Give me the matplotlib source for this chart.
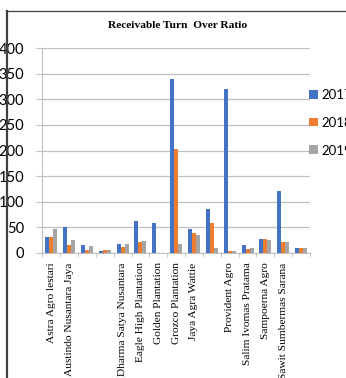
import numpy as np
import matplotlib
matplotlib.use("Agg")
import matplotlib.pyplot as plt
from matplotlib.lines import Line2D

# Data
companies = ["Astra Agro lestari", "Austindo Nusantara Jaya", "", "",
             "Dharma Satya Nusantara", "Eagle High Plantation", "Golden Plantation",
             "Grozco Plantation", "Jaya Agra Wattie", "", "Provident Agro",
             "Salim Ivomas Pratama", "Sampoerna Agro", "Sawit Sumbermas Sarana", ""]
years = ["2017", "2018", "2019"]
val_2017 = [31.5, 51, 15, 4, 16.5, 63, 58.5, 339, 46.5, 85.5, 321, 15, 26.5, 121, 8.5]
val_2018 = [31, 15, 5, 5, 11, 20, 0, 202, 38, 59, 4, 8, 26.5, 20, 8.5]
val_2019 = [47, 25, 12.5, 5, 16.5, 23, 0, 18, 35.5, 10, 4, 9.5, 25.5, 21.5, 10]
yticks = [0, 50, 100, 150, 200, 250, 300, 350, 400]

colors = ["#4472C4", "#ED7D31", "#A5A5A5"]
grid_c = "#C0C0C0"
sans = ["Lato", "DejaVu Sans"]
serif = ["Liberation Serif", "DejaVu Serif"]

W, H = 346, 378
fig = plt.figure(figsize=(W / 100, H / 100), dpi=100)
ax = fig.add_axes([42.3 / W, 1 - 252.7 / H, (310 - 42.3) / W, (252.7 - 48.3) / H])

x = np.arange(len(companies))
bw = 0.225
for k, (vals, lab) in enumerate(zip([val_2017, val_2018, val_2019], years)):
    ax.bar(x + (k - 1) * bw, vals, width=bw, color=colors[k], label=lab, zorder=3)

ax.set_xlim(-0.5, len(companies) - 0.5)
ax.set_ylim(0, 400)
ax.set_yticks(yticks)
ax.set_yticklabels([str(v) for v in yticks], fontsize=10.5, family=sans)
ax.yaxis.grid(True, color=grid_c, lw=0.9, zorder=0)
ax.tick_params(axis="y", length=4, color=grid_c, pad=9)

ax.set_xticks(x)
ax.set_xticklabels(companies, rotation=90, fontsize=8.2, family=serif)
ax.set_xticks(np.arange(-0.5, len(companies)), minor=True)
ax.tick_params(axis="x", which="major", length=0, pad=7)
ax.tick_params(axis="x", which="minor", length=3, color=grid_c)

for s in ["top", "right"]:
    ax.spines[s].set_visible(False)
ax.spines["left"].set_color(grid_c)
ax.spines["bottom"].set_color(grid_c)

fig.text(178 / W, 1 - 25 / H, "Receivable Turn  Over Ratio", ha="center", va="center",
         fontsize=8.2, fontweight="bold", family=serif)

ax.legend(loc="center left", bbox_to_anchor=(309 / W, 1 - 122.7 / H),
          bbox_transform=fig.transFigure, frameon=False, borderpad=0, borderaxespad=0,
          handlelength=0.65, handleheight=0.65, handletextpad=0.3, labelspacing=1.2,
          prop={"family": sans, "size": 9.5})

# dark frame edge along the left and top
fig.add_artist(Line2D([7 / W, 7 / W], [0, 1 - 11 / H], transform=fig.transFigure,
                      color="#404040", lw=1.6))
fig.add_artist(Line2D([7 / W, 1], [1 - 11 / H, 1 - 11 / H], transform=fig.transFigure,
                      color="#404040", lw=0.9))

fig.savefig("out.png", dpi=100)
